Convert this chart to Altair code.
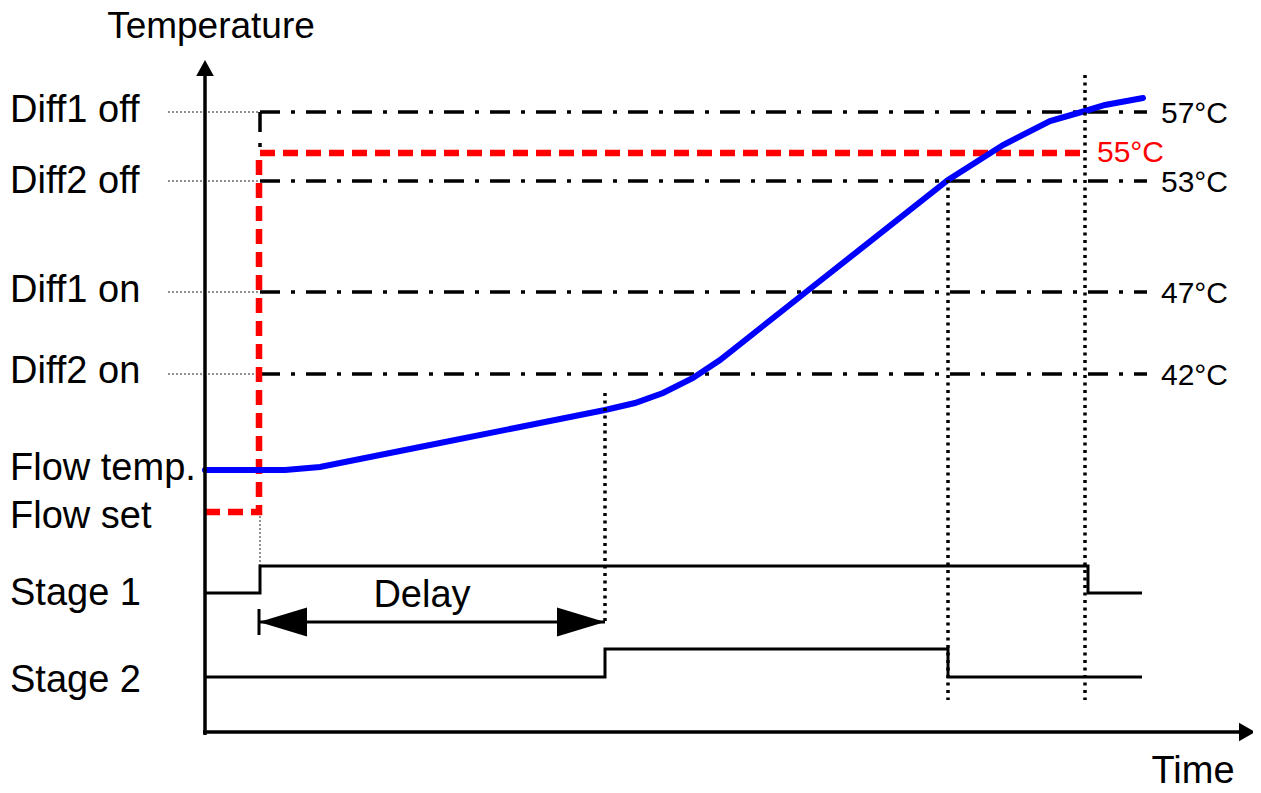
import altair as alt
import pandas as pd

# ---------------- data (diagram coordinates) ----------------
left_labels = ["Diff1 off", "Diff2 off", "Diff1 on", "Diff2 on",
               "Flow temp.", "Flow set", "Stage 1", "Stage 2"]
left_label_y = [122, 193, 302, 383, 480, 528, 605, 692]

level_labels = ["57°C", "53°C", "47°C", "42°C"]
level_y = [112, 181, 292, 374]

setpoint_label = ["55°C"]
setpoint_y = [162]

flow_temp_x = [205, 285, 320, 420, 520, 605, 635, 663, 693, 720, 806, 948, 1003, 1050, 1085, 1105, 1143]
flow_temp_y = [470, 470, 467, 447, 427, 410, 403, 393, 378, 360, 292, 180, 145, 121, 111, 105, 98]

flow_set_x = [205, 259, 259, 1088]
flow_set_y = [512, 512, 153, 153]

stage1_x = [205, 260, 260, 1088, 1088, 1142]
stage1_y = [593, 593, 566, 566, 593, 593]
stage2_x = [205, 605, 605, 948, 948, 1142]
stage2_y = [677, 677, 649, 649, 677, 677]

event_x = [605, 948, 1085]
event_top = [393, 180, 75]
event_bottom = [625, 700, 700]

delay_start, delay_end, delay_y = 259, 605, 622

FONT = "Liberation Sans"

X = alt.Scale(domain=[8, 1253], nice=False, zero=False)
Y = alt.Scale(domain=[8, 785], nice=False, zero=False, reverse=True)


def polys(segs):
    rows = []
    for k, (xs, ys) in enumerate(segs):
        for i, (x, y) in enumerate(zip(xs, ys)):
            rows.append(dict(seg=k, i=i, x=x, y=y))
    return pd.DataFrame(rows)


def lines(df, color, width, dash=None, cap="butt"):
    kw = dict(color=color, strokeWidth=width, strokeCap=cap, strokeJoin="miter")
    if dash:
        kw["strokeDash"] = dash
    return alt.Chart(df).mark_line(**kw).encode(
        x=alt.X("x:Q", scale=X, axis=None),
        y=alt.Y("y:Q", scale=Y, axis=None),
        detail="seg:N",
        order="i:Q",
    )


def texts(xs, ys, labels, size, color="black", align="left"):
    df = pd.DataFrame(dict(x=xs, y=ys, t=labels))
    return alt.Chart(df).mark_text(
        font=FONT, fontSize=size, color=color, align=align, baseline="alphabetic"
    ).encode(
        x=alt.X("x:Q", scale=X, axis=None),
        y=alt.Y("y:Q", scale=Y, axis=None),
        text="t:N",
    )


def heads(xs, ys, path, size):
    df = pd.DataFrame(dict(x=xs, y=ys))
    return alt.Chart(df).mark_point(
        shape=path, size=size, filled=True, color="black", opacity=1, strokeWidth=0
    ).encode(
        x=alt.X("x:Q", scale=X, axis=None),
        y=alt.Y("y:Q", scale=Y, axis=None),
    )


# axes
axes = lines(polys([([205, 205], [735, 72]), ([203, 1245], [732, 732])]), "black", 3.5)
axis_heads = alt.layer(
    heads([205], [68], "M0,-1L1.1,1L-1.1,1Z", 256),
    heads([1247], [732], "M1,0L-1,-1.15L-1,1.15Z", 256),
)

# threshold levels
dashdot = lines(
    polys([([260, 1147], [y, y]) for y in level_y] + [([260, 260], [level_y[0], 153])]),
    "black", 3.5, dash=[20, 11, 4, 11],
)
leaders = lines(
    polys([([168, 258], [y, y]) for y in level_y] + [([260, 260], [512, 566])]),
    "#222", 1, dash=[2, 2],
)

flow_set = lines(polys([(flow_set_x, flow_set_y)]), "#ff0000", 6.5, dash=[15, 8])
flow_temp = lines(polys([(flow_temp_x, flow_temp_y)]), "#0000ff", 6, cap="round")
stages = lines(polys([(stage1_x, stage1_y), (stage2_x, stage2_y)]), "black", 3)

events = lines(
    polys([([x, x], [t, b]) for x, t, b in zip(event_x, event_top, event_bottom)]),
    "black", 3.5, dash=[3, 4.5],
)

delay = lines(
    polys([([delay_start, delay_end], [delay_y, delay_y]),
           ([delay_start, delay_start], [delay_y - 13, delay_y + 13])]),
    "black", 3,
)
delay_heads = alt.layer(
    heads([delay_start + 24], [delay_y], "M-1,0L1,-0.6L1,0.6Z", 2304),
    heads([delay_end - 24], [delay_y], "M1,0L-1,-0.6L-1,0.6Z", 2304),
)

labels = alt.layer(
    texts([10] * len(left_labels), left_label_y, left_labels, 38),
    texts([1161] * len(level_labels), [y + 11 for y in level_y], level_labels, 30),
    texts([1097], setpoint_y, setpoint_label, 30, color="#ff0000"),
    texts([211], [38], ["Temperature"], 37, align="center"),
    texts([1193], [783], ["Time"], 38, align="center"),
    texts([422], [607], ["Delay"], 38, align="center"),
)

chart = alt.layer(
    leaders, dashdot, flow_set, flow_temp, stages, events, delay, delay_heads,
    axes, axis_heads, labels,
).properties(
    width=1245, height=777,
    autosize=alt.AutoSizeParams(type="none"),
    padding={"top": 0, "left": 0, "right": 0, "bottom": 8},
    background="white",
).configure_view(stroke=None)

chart.save("out.html", embed_options={"renderer": "svg", "actions": False})
